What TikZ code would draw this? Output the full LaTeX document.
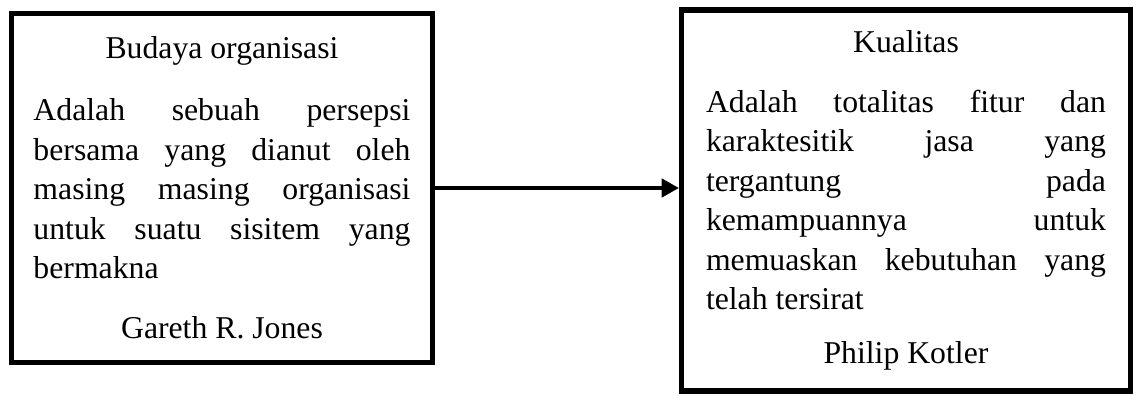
\documentclass[tikz,border=0pt]{standalone}
\usepackage{fontspec}
\setmainfont{Liberation Serif}
\usetikzlibrary{arrows.meta,positioning}
\setlength{\parindent}{0pt}
\newcommand{\hurufkotak}{\fontsize{23.8}{29.6}\selectfont\hyphenpenalty=10000 \tolerance=10000 }
\tikzset{
  kotak/.style={draw, line width=4.1pt, inner sep=0pt, align=justify, font=\hurufkotak},
  panah/.style={-{Triangle[length=13pt,width=13.5pt]}, line width=3.6pt}
}
\newcommand{\judul}[2]{{\centering #1\par}\vspace{#2}}

\begin{document}
\begin{tikzpicture}[x=0.75pt, y=-0.75pt]
\useasboundingbox (0,0) rectangle (1136,396);
\node[kotak, text width=282.75pt, minimum width=316.1pt, minimum height=261.4pt] (budaya) at (222,188) {%
  \judul{Budaya organisasi}{16.9pt}
  Adalah sebuah persepsi\linebreak bersama yang dianut oleh\linebreak masing masing organisasi\linebreak untuk suatu sisitem yang\linebreak bermakna\par
  \vspace{15.4pt}{\centering Gareth R. Jones\par}};
\node[kotak, text width=300pt, minimum width=336.4pt, minimum height=285.75pt] (kualitas) at (906,200.5) {%
  \judul{Kualitas}{15.4pt}
  Adalah totalitas fitur dan\linebreak karaktesitik jasa yang\linebreak tergantung pada\linebreak kemampuannya untuk\linebreak memuaskan kebutuhan yang\linebreak telah tersirat\par
  \vspace{10.9pt}{\centering Philip Kotler\par}};
\draw[panah] (budaya.east) -- (budaya.east -| kualitas.west);
\end{tikzpicture}
\end{document}
